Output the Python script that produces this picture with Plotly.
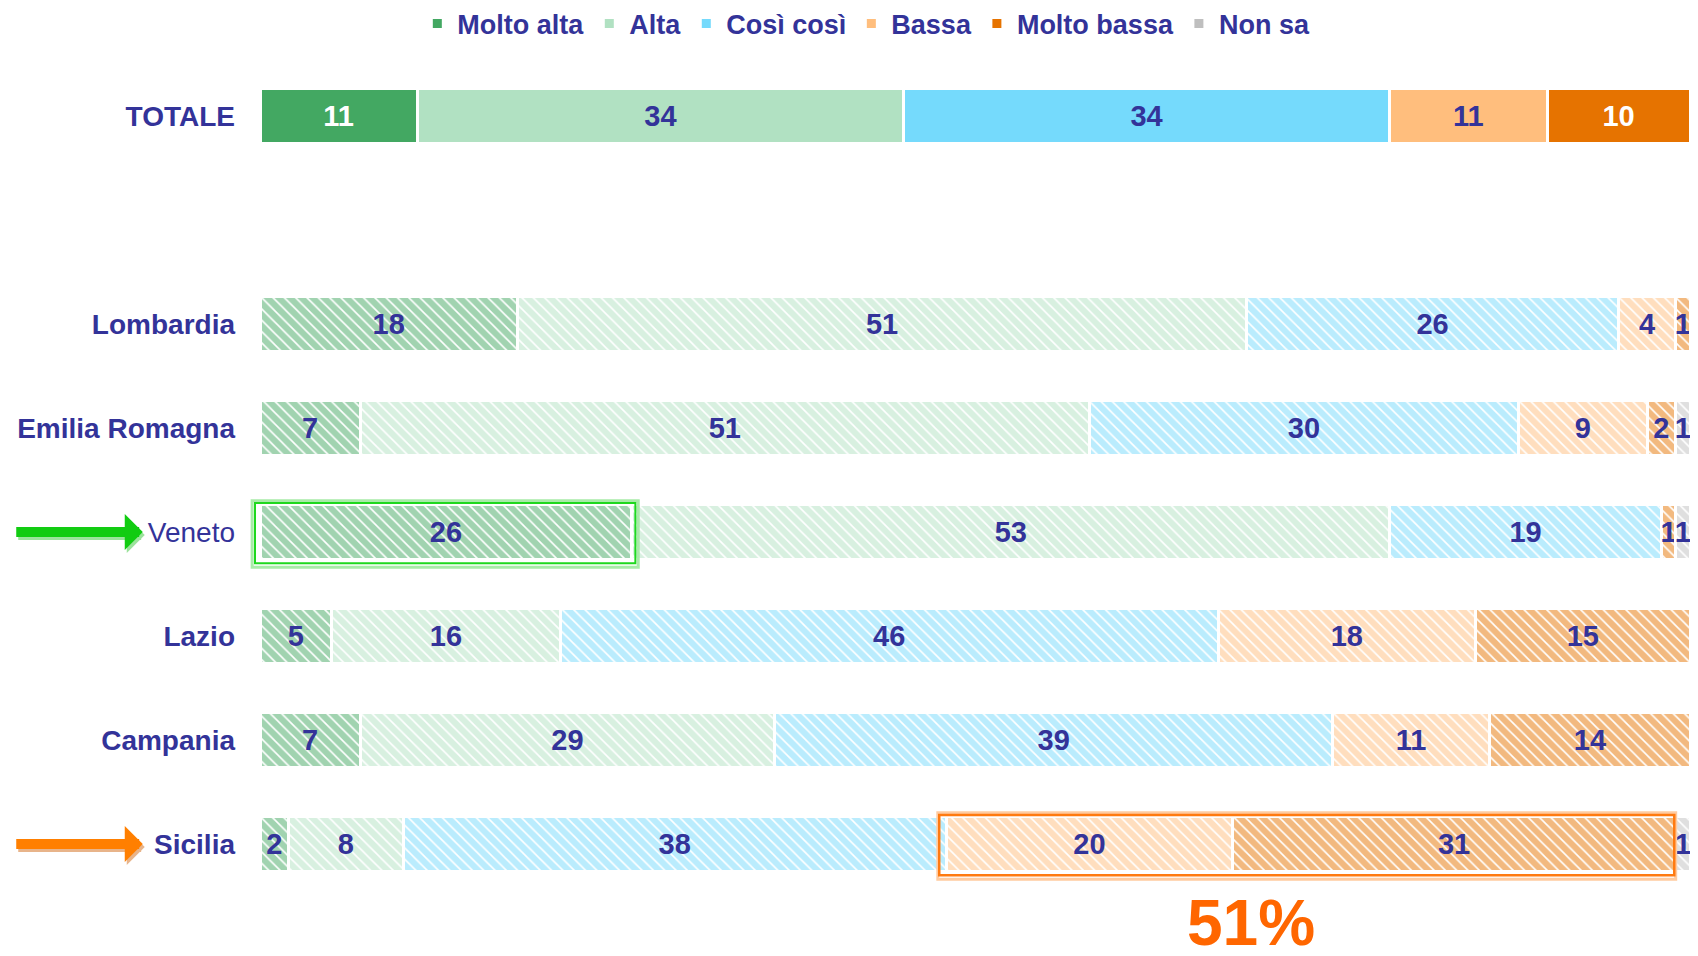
import plotly.graph_objects as go

# ---------------- data ----------------
series = ["Molto alta", "Alta", "Così così", "Bassa", "Molto bassa", "Non sa"]
colors = ["#43A862", "#B1E1C2", "#75DAFC", "#FFBE7D", "#E67300", "#BFBFBF"]
total_label = "TOTALE"
total_values = [11, 34, 34, 11, 10, 0]
total_text_colors = ["white", "#333399", "#333399", "#333399", "white", "#333399"]

regions = ["Lombardia", "Emilia Romagna", "Veneto", "Lazio", "Campania", "Sicilia"]
molto_alta = [18, 7, 26, 5, 7, 2]
alta = [51, 51, 53, 16, 29, 8]
cosi_cosi = [26, 30, 19, 46, 39, 38]
bassa = [4, 9, 0, 18, 11, 20]
molto_bassa = [1, 2, 1, 15, 14, 31]
non_sa = [0, 1, 1, 0, 0, 1]
region_values = [molto_alta, alta, cosi_cosi, bassa, molto_bassa, non_sa]

spacer = " "
categories = [total_label, spacer] + regions

DARK = "#333399"
FONT = "Liberation Sans, Arial, sans-serif"
XMAX = 100

fig = go.Figure()
for i, name in enumerate(series):
    tv = total_values[i]
    fig.add_trace(go.Bar(
        y=[total_label], x=[tv], orientation="h", name=name,
        marker=dict(color=colors[i], line=dict(color="white", width=3)),
        text=[str(tv) if tv else ""], textposition="inside",
        insidetextanchor="middle", textangle=0, cliponaxis=False,
        textfont=dict(color=total_text_colors[i], size=29, family=FONT, weight="bold"),
        legendgroup=name, showlegend=True, hoverinfo="x+y+name",
    ))
    vals = region_values[i]
    fig.add_trace(go.Bar(
        y=regions, x=vals, orientation="h", name=name,
        marker=dict(color=colors[i], line=dict(color="white", width=3),
                    pattern=dict(shape="\\", fgcolor=colors[i], bgcolor="white",
                                 size=8, solidity=0.8)),
        text=[str(v) if v else "" for v in vals], textposition="inside",
        insidetextanchor="middle", textangle=0, cliponaxis=False,
        textfont=dict(color=DARK, size=29, family=FONT, weight="bold"),
        legendgroup=name, showlegend=False, hoverinfo="x+y+name",
    ))

ticktext = []
for c in categories:
    if c == "Veneto":
        ticktext.append(c)
    else:
        ticktext.append("<b>" + c + "</b>")

# highlight boxes computed from the data (x in paper fraction so they are not clipped)
iv = regions.index("Veneto")
ven_x1 = molto_alta[iv]
yv = categories.index("Veneto")
isic = regions.index("Sicilia")
sic_x0 = molto_alta[isic] + alta[isic] + cosi_cosi[isic]
sic_x1 = sic_x0 + bassa[isic] + molto_bassa[isic]
ys = categories.index("Sicilia")


def px(v):
    return v / XMAX


shapes = [
    dict(type="rect", xref="paper", yref="y", x0=px(-0.55), x1=px(ven_x1 + 0.45),
         y0=yv - 0.30, y1=yv + 0.34,
         line=dict(color="#A8EBA8", width=3), fillcolor="rgba(0,0,0,0)"),
    dict(type="rect", xref="paper", yref="y", x0=px(-0.35), x1=px(ven_x1 + 0.25),
         y0=yv - 0.28, y1=yv + 0.30,
         line=dict(color="#1ED81E", width=2), fillcolor="rgba(0,0,0,0)"),
    dict(type="rect", xref="paper", yref="y", x0=px(sic_x0 - 0.6), x1=px(sic_x1 + 0.0),
         y0=ys - 0.30, y1=ys + 0.34,
         line=dict(color="#FFCBA0", width=3), fillcolor="rgba(0,0,0,0)"),
    dict(type="rect", xref="paper", yref="y", x0=px(sic_x0 - 0.5), x1=px(sic_x1 - 0.1),
         y0=ys - 0.28, y1=ys + 0.30,
         line=dict(color="#FF7A10", width=2.5), fillcolor="rgba(0,0,0,0)"),
]

annotations = []
for label, col, shadow in [("Veneto", "#11CC11", "#9BE39B"), ("Sicilia", "#FF7F00", "#E8B48A")]:
    for c, xs, ysft in [(shadow, 2, -3), (col, 0, 0)]:
        annotations.append(dict(
            x=-0.082, y=label, xref="paper", yref="y", text="", showarrow=True,
            ax=-128, ay=0, axref="pixel", ayref="pixel", arrowhead=1, arrowsize=0.6,
            arrowwidth=10, arrowcolor=c, xshift=xs, yshift=ysft, standoff=0,
        ))
annotations.append(dict(
    x=0.693, y=-0.032, xref="paper", yref="paper", text="<b>51%</b>", showarrow=False,
    font=dict(family=FONT, size=64, color="#FF6600"), xanchor="center", yanchor="middle",
))

fig.update_layout(
    barmode="stack", bargap=0.47,
    width=1682, height=940,
    paper_bgcolor="white", plot_bgcolor="white",
    margin=dict(l=252, r=0, t=56, b=52, autoexpand=False),
    font=dict(family=FONT, color=DARK),
    uniformtext=dict(minsize=29, mode="show"),
    xaxis=dict(range=[0, XMAX], visible=False, fixedrange=True),
    yaxis=dict(categoryorder="array", categoryarray=categories, autorange="reversed",
               tickmode="array", tickvals=categories, ticktext=ticktext,
               tickfont=dict(size=28, color=DARK, family=FONT),
               showgrid=False, zeroline=False, showline=False, ticks="",
               ticklabelstandoff=24, automargin=False),
    legend=dict(orientation="h", x=0.424, xanchor="center", y=0.983, yanchor="middle",
                yref="container", font=dict(size=27, color=DARK, family=FONT, weight="bold"),
                traceorder="normal", itemwidth=30, bgcolor="rgba(0,0,0,0)"),
    shapes=shapes, annotations=annotations,
)

fig.write_html("out.html")
